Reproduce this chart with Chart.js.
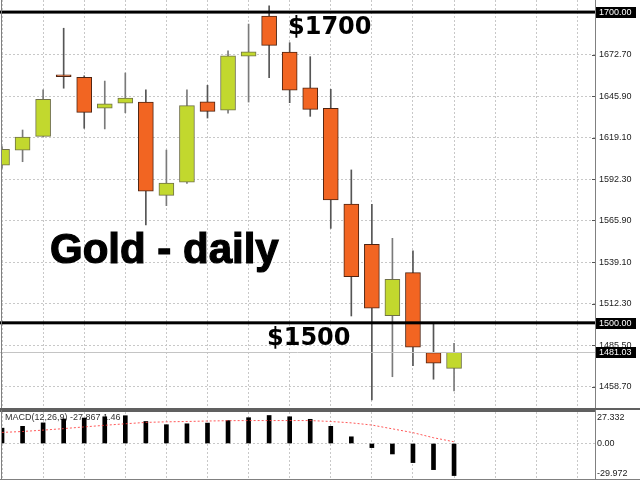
<!DOCTYPE html>
<html>
<head>
<meta charset="utf-8">
<script src="https://cdn.jsdelivr.net/npm/chart.js@4.4.1/dist/chart.umd.min.js"></script>
<style>
  body { margin: 0; background: #fff; }
  #wrap { position: relative; width: 640px; height: 480px; }
  canvas { position: absolute; left: 0; }
</style>
</head>
<body>
<div id="wrap">
  <canvas id="priceChart" width="640" height="410" style="top:0"></canvas>
  <canvas id="macdChart" width="640" height="70" style="top:410px"></canvas>
</div>
<script>
// =========================
// Data (Gold daily)
// =========================

const days   = [0, 1, 2, 3, 4, 5, 6, 7, 8, 9, 10, 11, 12, 13, 14, 15, 16, 17, 18, 19, 20, 21, 22];
const opens  = [1601.4, 1611.2, 1620.0, 1659.4, 1658.0, 1638.1, 1641.3, 1642.1, 1582.0, 1590.6, 1642.3, 1636.8,
                1671.7, 1697.5, 1674.3, 1651.3, 1638.1, 1576.5, 1550.5, 1504.6, 1532.3, 1480.8, 1470.7];
const highs  = [1613.4, 1624.1, 1649.9, 1689.6, 1659.0, 1655.6, 1660.8, 1649.9, 1611.2, 1649.9, 1652.9, 1675.0,
                1692.3, 1704.1, 1680.3, 1671.3, 1650.3, 1598.4, 1576.3, 1554.4, 1546.4, 1499.7, 1486.8];
const lows   = [1599.6, 1603.7, 1620.0, 1651.0, 1625.2, 1624.8, 1635.2, 1563.0, 1575.4, 1589.8, 1631.8, 1634.9,
                1642.1, 1657.8, 1641.7, 1632.9, 1560.8, 1504.4, 1450.3, 1465.3, 1472.4, 1463.7, 1456.1];
const closes = [1611.7, 1619.6, 1643.9, 1658.4, 1635.5, 1641.0, 1644.7, 1584.8, 1589.9, 1639.8, 1636.1, 1671.9,
                1674.5, 1678.6, 1649.7, 1637.4, 1579.1, 1529.7, 1509.4, 1528.0, 1484.3, 1474.0, 1481.03];

const macdHist   = [13.3, 14.9, 17.9, 21.3, 22.1, 23.2, 24.1, 19.1, 16.3, 17.1, 17.7, 19.9,
                    22.4, 24.3, 23.2, 21.0, 14.9, 5.8, -3.6, -9.1, -16.6, -22.7, -27.867];
const macdSignal = [9.6, 10.4, 11.6, 12.9, 14.4, 15.8, 17.1, 18.3, 18.8, 19.1, 19.5, 19.8,
                    19.9, 19.9, 19.9, 19.9, 19.1, 17.9, 16.0, 12.7, 9.4, 5.0, 1.46];

const priceTicks = [1458.70, 1485.50, 1512.30, 1539.10, 1565.90, 1592.30, 1619.10, 1645.90, 1672.70];
const levels     = [1700, 1500];
const lastPrice  = closes[closes.length - 1];
const macdRange  = [-29.972, 27.332];

// =========================
// Shared look
// =========================

const UP_FILL = "#c2d82e", UP_LINE = "#6f7048";
const DN_FILL = "#f26522", DN_LINE = "#4e2412";
const GRID = "#c8c8c8";
const FRAME = "#808080";
const LABEL_FONT = "9px 'Liberation Sans'";
const X_MIN = -0.05, X_MAX = 28.86;

const isUp = i => closes[i] >= opens[i];

function xScale() {
  return {
    type: "linear",
    min: X_MIN,
    max: X_MAX,
    offset: false,
    ticks: { display: false },
    grid: { color: GRID, drawTicks: false, offset: false },
    border: { display: false, dash: [2, 2] },
    afterBuildTicks: s => {
      const t = [];
      for (let v = 0; v <= X_MAX; v += 2) t.push({ value: v });
      s.ticks = t;
    }
  };
}

function hline(ctx, x1, x2, y, color, w) {
  ctx.strokeStyle = color;
  ctx.lineWidth = w;
  ctx.beginPath();
  ctx.moveTo(x1, y);
  ctx.lineTo(x2, y);
  ctx.stroke();
}

function vline(ctx, x, y1, y2, color, w) {
  ctx.strokeStyle = color;
  ctx.lineWidth = w;
  ctx.beginPath();
  ctx.moveTo(x, y1);
  ctx.lineTo(x, y2);
  ctx.stroke();
}

// =========================
// Price panel overlay (levels, labels, notes)
// =========================

const priceOverlay = {
  id: "priceOverlay",
  afterDatasetsDraw(chart) {
    const { ctx, chartArea: a, scales: { y } } = chart;
    ctx.save();

    // bid line
    const bidY = Math.round(y.getPixelForValue(lastPrice)) + 0.5;
    hline(ctx, 0, a.right, bidY, "#c4c4c4", 1);

    // $1700 / $1500 lines
    levels.forEach(v => {
      const py = y.getPixelForValue(v);
      ctx.fillStyle = "#000";
      ctx.fillRect(0, py - 1.5, a.right, 3);
    });

    // frame
    vline(ctx, 1.5, 0, a.bottom, FRAME, 1);
    vline(ctx, a.right + 0.5, 0, chart.height, FRAME, 1);
    hline(ctx, 0, chart.width, chart.height - 1, "#606060", 2);

    // notes
    ctx.fillStyle = "#000";
    ctx.strokeStyle = "#000";
    ctx.textBaseline = "alphabetic";
    ctx.textAlign = "left";
    ctx.font = "bold 24px 'DejaVu Sans'";
    ctx.fillText("$1700", 288, y.getPixelForValue(1700) + 21.5);
    ctx.fillText("$1500", 267, y.getPixelForValue(1500) + 22.5);
    ctx.font = "bold 42px 'Liberation Sans'";
    ctx.lineWidth = 1.2;
    ctx.fillText("Gold - daily", 50, 263);
    ctx.strokeText("Gold - daily", 50, 263);
    ctx.restore();
  },
  afterDraw(chart) {
    const { ctx, chartArea: a, scales: { y } } = chart;
    ctx.save();
    ctx.font = LABEL_FONT;
    ctx.textBaseline = "middle";
    ctx.textAlign = "left";

    // axis labels
    ctx.fillStyle = "#222";
    priceTicks.forEach(v => {
      const py = y.getPixelForValue(v);
      hline(ctx, a.right - 3, a.right, Math.round(py) + 0.5, "#555", 1);
      ctx.fillText(v.toFixed(2), a.right + 4, py);
    });

    // boxed labels
    [...levels, lastPrice].forEach(v => {
      const py = Math.round(y.getPixelForValue(v));
      ctx.fillStyle = "#000";
      ctx.fillRect(a.right + 1, py - 5, 40, 11);
      ctx.fillStyle = "#fff";
      ctx.fillText(v.toFixed(2), a.right + 4, py + 0.5);
    });
    ctx.restore();
  }
};

// =========================
// Price chart (candles = wick bar + body bar)
// =========================

const priceChart = new Chart(document.getElementById("priceChart").getContext("2d"), {
  type: "bar",
  data: {
    datasets: [
      {
        label: "wick",
        data: days.map(i => ({ x: i, y: [lows[i], highs[i]] })),
        backgroundColor: days.map(i => isUp(i) ? "#7a7a7a" : "#555555"),
        barThickness: 1,
        grouped: false,
        order: 2
      },
      {
        label: "body",
        data: days.map(i => ({ x: i, y: [opens[i], closes[i]] })),
        backgroundColor: days.map(i => isUp(i) ? UP_FILL : DN_FILL),
        borderColor: days.map(i => isUp(i) ? UP_LINE : DN_LINE),
        borderWidth: 1,
        borderSkipped: false,
        minBarLength: 2,
        barThickness: 15,
        grouped: false,
        order: 1
      }
    ]
  },
  options: {
    responsive: false,
    animation: false,
    layout: { padding: { left: 1, top: 0, right: 0, bottom: 1 } },
    plugins: { legend: { display: false }, tooltip: { enabled: false } },
    scales: {
      x: xScale(),
      y: {
        position: "right",
        min: 1444.53,
        max: 1707.78,
        afterFit: s => { s.width = 45; },
        afterBuildTicks: s => { s.ticks = priceTicks.map(v => ({ value: v })); },
        ticks: { display: false },
        grid: { color: GRID, drawTicks: false },
        border: { display: false, dash: [2, 2] }
      }
    }
  },
  plugins: [priceOverlay]
});

// =========================
// MACD panel
// =========================

const macdOverlay = {
  id: "macdOverlay",
  beforeDatasetsDraw(chart) {
    const { ctx, chartArea: a } = chart;
    ctx.save();
    ctx.font = LABEL_FONT;
    ctx.fillStyle = "#333";
    ctx.textBaseline = "middle";
    ctx.fillText("MACD(12,26,9) " + macdHist[macdHist.length - 1].toFixed(3) + " " +
                 macdSignal[macdSignal.length - 1].toFixed(2), 5, a.top + 6);
    ctx.restore();
  },
  afterDraw(chart) {
    const { ctx, chartArea: a, scales: { y } } = chart;
    ctx.save();
    hline(ctx, 0, a.right, 1, "#606060", 2);
    hline(ctx, 0, a.right + 45, chart.height - 0.5, FRAME, 1);
    vline(ctx, 1.5, 0, chart.height, FRAME, 1);
    vline(ctx, a.right + 0.5, 0, chart.height, FRAME, 1);

    ctx.font = LABEL_FONT;
    ctx.fillStyle = "#222";
    ctx.textBaseline = "middle";
    ctx.textAlign = "left";
    ctx.fillText(macdRange[1].toFixed(3), a.right + 2, a.top + 6);
    ctx.fillText((0).toFixed(2), a.right + 2, y.getPixelForValue(0));
    ctx.fillText(macdRange[0].toFixed(3), a.right + 2, a.bottom - 4);
    ctx.restore();
  }
};

const macdChart = new Chart(document.getElementById("macdChart").getContext("2d"), {
  type: "bar",
  data: {
    datasets: [
      {
        type: "line",
        label: "signal",
        data: days.map(i => ({ x: i, y: macdSignal[i] })),
        borderColor: "rgba(255, 60, 60, 0.85)",
        borderWidth: 1,
        borderDash: [2, 2],
        pointRadius: 0,
        order: 1
      },
      {
        label: "macd",
        data: days.map(i => ({ x: i, y: macdHist[i] })),
        backgroundColor: "#000",
        barThickness: 4,
        grouped: false,
        order: 2
      }
    ]
  },
  options: {
    responsive: false,
    animation: false,
    layout: { padding: { left: 1, top: 2, right: 0, bottom: 2 } },
    plugins: { legend: { display: false }, tooltip: { enabled: false } },
    scales: {
      x: xScale(),
      y: {
        position: "right",
        min: macdRange[0],
        max: macdRange[1],
        afterFit: s => { s.width = 45; },
        afterBuildTicks: s => { s.ticks = [{ value: 0 }]; },
        ticks: { display: false },
        grid: { color: GRID, drawTicks: false },
        border: { display: false, dash: [2, 2] }
      }
    }
  },
  plugins: [macdOverlay]
});
</script>
</body>
</html>
